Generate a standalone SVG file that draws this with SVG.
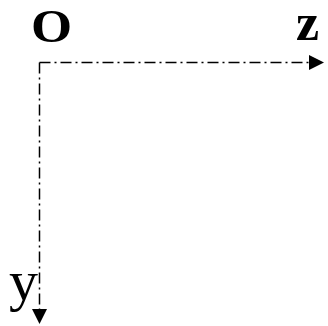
<svg xmlns="http://www.w3.org/2000/svg" width="328" height="326" viewBox="0 0 328 326">
<style>
.axis{stroke:#000;stroke-width:1.5;fill:none;stroke-dasharray:11,4,2,4}
.head{fill:#000}
.lbl{font-family:"Liberation Serif","Times New Roman",serif;fill:#000}
</style>
<rect width="328" height="326" fill="#fff"/>
<g id="connectors">
<path class="axis" d="M39.5,62.5 H309"/>
<polygon class="head" points="309,55 324,62.5 309,70"/>
<path class="axis" d="M39.5,62.5 V309"/>
<polygon class="head" points="32,309 39.5,324 47,309"/>
</g>
<g id="origin"><text class="lbl" transform="translate(31,42) scale(1.15,1)" font-size="46" font-weight="bold">O</text></g>
<g id="z"><text class="lbl" x="296" y="40" font-size="52" font-weight="bold">z</text></g>
<g id="y"><text class="lbl" x="9" y="300" font-size="58">y</text></g>
</svg>
